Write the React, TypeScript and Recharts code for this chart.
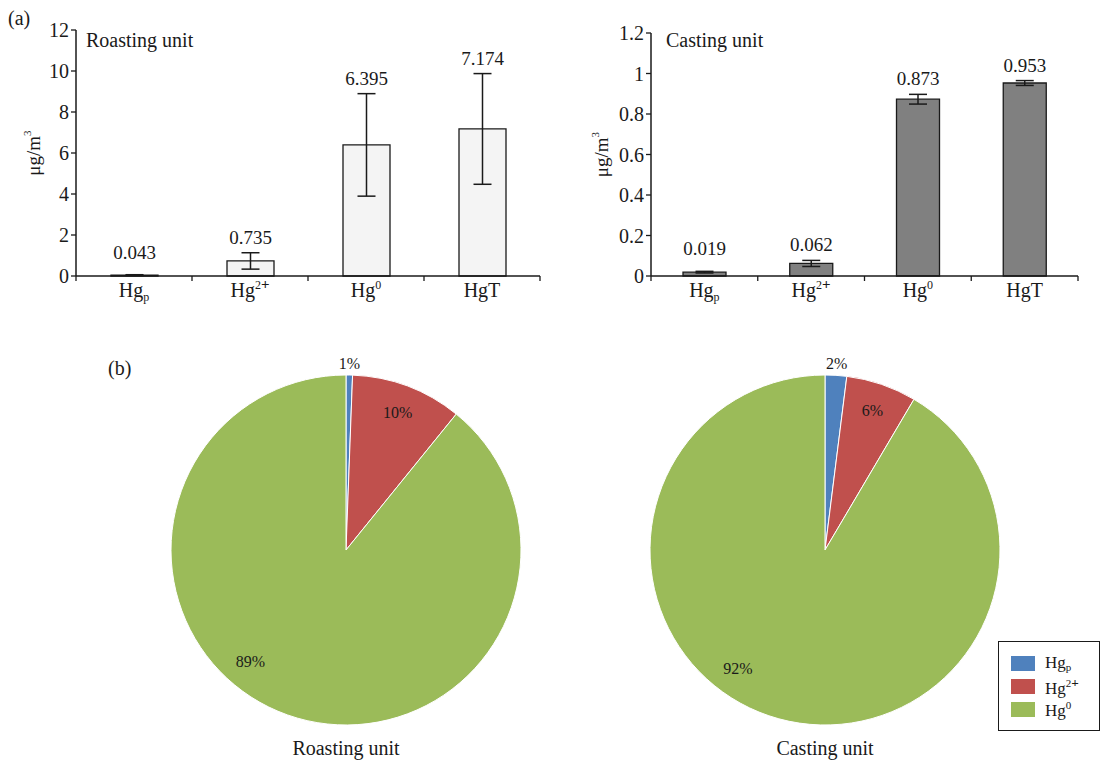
import { Bar, BarChart, Cell, ErrorBar, LabelList, Legend, Pie, PieChart, XAxis, YAxis } from 'recharts';

const categories = ['Hgp', 'Hg2+', 'Hg0', 'HgT'];
const roastValues = [0.043, 0.735, 6.395, 7.174];
const roastErrors = [0.02, 0.4, 2.5, 2.7];
const castValues = [0.019, 0.062, 0.873, 0.953];
const castErrors = [0.004, 0.015, 0.024, 0.012];
const roastTicks = [0, 2, 4, 6, 8, 10, 12];
const castTicks = [0, 0.2, 0.4, 0.6, 0.8, 1, 1.2];

const pieCategories = ['Hgp', 'Hg2+', 'Hg0'];
const pieColors = ['#4f81bd', '#c0504d', '#9bbb59'];
const roastPieLabels = ['1%', '10%', '89%'];
const castPieLabels = ['2%', '6%', '92%'];

const FONT = "'Liberation Serif', 'DejaVu Serif', serif";
const INK = '#1a1a1a';
const RAD = Math.PI / 180;
const serif = { fontFamily: FONT };

// chemical names with sub/superscripts, svg version
function SvgFormula({ name, size }: { name: string; size: number }) {
  const small = Math.round(size * 0.62);
  if (name === 'Hgp')
    return (
      <>
        <tspan>Hg</tspan>
        <tspan fontSize={small} dy={4}>p</tspan>
      </>
    );
  if (name === 'Hg2+')
    return (
      <>
        <tspan>Hg</tspan>
        <tspan fontSize={small} dy={-8}>2</tspan>
        <tspan fontSize={small + 3} fontWeight="bold">+</tspan>
      </>
    );
  if (name === 'Hg0')
    return (
      <>
        <tspan>Hg</tspan>
        <tspan fontSize={small} dy={-8}>0</tspan>
      </>
    );
  return <tspan>{name}</tspan>;
}

function HtmlFormula({ name }: { name: string }) {
  const sub = { fontSize: '0.65em', verticalAlign: '-0.3em' };
  const sup = { fontSize: '0.65em', verticalAlign: '0.6em' };
  if (name === 'Hgp') return <span>Hg<span style={sub}>p</span></span>;
  if (name === 'Hg2+') return <span>Hg<span style={sup}>2<b style={{ fontSize: '1.2em' }}>+</b></span></span>;
  if (name === 'Hg0') return <span>Hg<span style={sup}>0</span></span>;
  return <span>{name}</span>;
}

function makeTick(band: number, count: number) {
  return (props: any) => {
    const { x, y, payload, index } = props;
    const y0 = y - 8;
    return (
      <g>
        <line x1={x - band / 2} x2={x - band / 2} y1={y0} y2={y0 + 5} stroke={INK} strokeWidth={1.3} />
        {index === count - 1 && (
          <line x1={x + band / 2} x2={x + band / 2} y1={y0} y2={y0 + 5} stroke={INK} strokeWidth={1.3} />
        )}
        <text x={x} y={y0 + 21} textAnchor="middle" style={serif} fontSize={20} fill={INK}>
          <SvgFormula name={payload.value} size={20} />
        </text>
      </g>
    );
  };
}

function UnitBarChart({ values, errors, ticks, fill, barSize, width, margin, labelDx }: any) {
  const data = categories.map((c, i) => ({ name: c, value: values[i], err: errors[i] }));
  const band = (width - margin.left - margin.right - 46) / categories.length;
  const valueLabel = (props: any) => {
    const { x, y, width: w, height, index, value } = props;
    const errPx = value > 0 ? (errors[index] * height) / value : 0;
    const gap = index === 0 && errPx < 2 ? 16 : 9;
    return (
      <text x={x + w / 2} y={y - errPx - gap} textAnchor="middle" style={serif} fontSize={19} fill={INK}>
        {value}
      </text>
    );
  };
  return (
    <BarChart width={width} height={320} data={data} margin={margin} style={serif}>
      <XAxis
        dataKey="name"
        height={30}
        interval={0}
        tickLine={false}
        axisLine={{ stroke: INK, strokeWidth: 1.5 }}
        tick={makeTick(band, categories.length)}
      />
      <YAxis
        width={46}
        domain={[0, ticks[ticks.length - 1]]}
        ticks={ticks}
        interval={0}
        axisLine={{ stroke: INK, strokeWidth: 1.5 }}
        tickLine={{ stroke: INK, strokeWidth: 1.3 }}
        tickSize={5}
        tick={{ style: serif, fontSize: 20, fill: INK }}
        label={(p: any) => {
          const vb = p.viewBox || { x: 0, y: 0, height: 0 };
          const cx = vb.x + labelDx;
          const cy = vb.y + vb.height / 2;
          return (
            <text x={cx} y={cy} transform={`rotate(-90 ${cx} ${cy})`} textAnchor="middle" dominantBaseline="central" style={serif} fontSize={19} fill={INK}>
              μg/m<tspan fontSize={11} dy={-6}>3</tspan>
            </text>
          );
        }}
      />
      <Bar dataKey="value" fill={fill} stroke={INK} strokeWidth={1.3} barSize={barSize} isAnimationActive={false}>
        <ErrorBar dataKey="err" width={9} stroke={INK} strokeWidth={1.5} direction="y" isAnimationActive={false} />
        <LabelList dataKey="value" content={valueLabel} />
      </Bar>
    </BarChart>
  );
}

function makePieLabel(labels: string[]) {
  return (props: any) => {
    const { cx, cy, midAngle, outerRadius, index } = props;
    // small slice label sits outside, the big slice label is nudged round like the original
    const r = index === 0 ? outerRadius + 12 : outerRadius * 0.84;
    const ang = index === 2 ? midAngle - 21 : midAngle;
    const x = cx + r * Math.cos(-ang * RAD);
    const y = cy + r * Math.sin(-ang * RAD);
    return (
      <text x={x} y={y} textAnchor="middle" dominantBaseline="central" style={serif} fontSize={16} fill={INK}>
        {labels[index]}
      </text>
    );
  };
}

function UnitPie({ values, labels, width, legend }: any) {
  const data = pieCategories.map((n, i) => ({ name: n, value: values[i] }));
  return (
    <PieChart width={width} height={400} margin={{ top: 0, right: 0, bottom: 0, left: 0 }} style={serif}>
      <Pie
        data={data}
        dataKey="value"
        nameKey="name"
        cx={240}
        cy={210}
        outerRadius={175}
        startAngle={90}
        endAngle={-270}
        stroke="#ffffff"
        strokeWidth={1}
        label={makePieLabel(labels)}
        labelLine={false}
        isAnimationActive={false}
      >
        {data.map((d, i) => (
          <Cell key={d.name} fill={pieColors[i]} />
        ))}
      </Pie>
      {legend && (
        <Legend
          wrapperStyle={{ position: 'absolute', left: 413, top: 301, width: 102, height: 90 }}
          content={() => (
            <div
              style={{
                boxSizing: 'border-box',
                width: 102,
                height: 90,
                border: `1px solid ${INK}`,
                background: '#fff',
                padding: '10px 0 0 12px',
                fontFamily: FONT,
                fontSize: 17,
                color: INK,
              }}
            >
              {pieCategories.map((n, i) => (
                <div key={n} style={{ display: 'flex', alignItems: 'center', height: 23 }}>
                  <span style={{ width: 24, height: 15, background: pieColors[i], marginRight: 10, display: 'inline-block' }} />
                  <HtmlFormula name={n} />
                </div>
              ))}
            </div>
          )}
        />
      )}
    </PieChart>
  );
}

const abs = (left: number, top: number, extra: any = {}) => ({
  position: 'absolute' as const,
  left,
  top,
  fontFamily: FONT,
  color: INK,
  lineHeight: 1,
  whiteSpace: 'nowrap' as const,
  ...extra,
});

export default function App() {
  return (
    <div style={{ position: 'absolute', left: 0, top: 0, width: 1119, height: 762, background: '#fff', overflow: 'hidden', fontFamily: FONT }}>
      <div style={{ position: 'absolute', left: 0, top: 0 }}>
        <UnitBarChart
          values={roastValues}
          errors={roastErrors}
          ticks={roastTicks}
          fill="#f4f4f4"
          barSize={47}
          width={560}
          margin={{ top: 30, right: 20, left: 30, bottom: 14 }}
          labelDx={3}
        />
      </div>
      <div style={{ position: 'absolute', left: 560, top: 0 }}>
        <UnitBarChart
          values={castValues}
          errors={castErrors}
          ticks={castTicks}
          fill="#808080"
          barSize={43}
          width={540}
          margin={{ top: 33, right: 22, left: 45, bottom: 14 }}
          labelDx={-4}
        />
      </div>
      <div style={{ position: 'absolute', left: 106, top: 340 }}>
        <UnitPie values={roastValues} labels={roastPieLabels} width={480} />
      </div>
      <div style={{ position: 'absolute', left: 585, top: 340 }}>
        <UnitPie values={castValues} labels={castPieLabels} width={530} legend />
      </div>

      <div style={abs(8, 8, { fontSize: 20 })}>(a)</div>
      <div style={abs(86, 30, { fontSize: 20 })}>Roasting unit</div>
      <div style={abs(666, 30, { fontSize: 20 })}>Casting unit</div>
      <div style={abs(108, 358, { fontSize: 20 })}>(b)</div>
      <div style={abs(246, 738, { fontSize: 20, width: 200, textAlign: 'center' })}>Roasting unit</div>
      <div style={abs(725, 738, { fontSize: 20, width: 200, textAlign: 'center' })}>Casting unit</div>
    </div>
  );
}
